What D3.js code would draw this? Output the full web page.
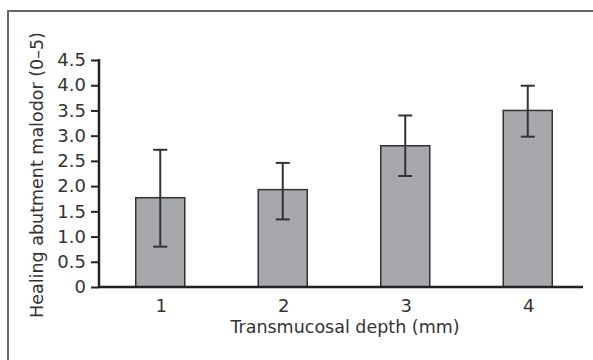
<!DOCTYPE html>
<html>
<head>
<meta charset="utf-8">
<script src="https://cdn.jsdelivr.net/npm/d3@7/dist/d3.min.js"></script>
<style>
  html, body { margin: 0; padding: 0; background: #fff; }
  svg text { font-family: "DejaVu Sans", sans-serif; fill: #333; }
</style>
</head>
<body>
<svg id="chart" width="593" height="360"></svg>
<script>
const categories = ["1", "2", "3", "4"];
const means = [1.77, 1.93, 2.80, 3.50];
const errLow = [0.80, 1.34, 2.20, 2.98];
const errHigh = [2.72, 2.46, 3.40, 3.99];
const yTicks = [0, 0.5, 1.0, 1.5, 2.0, 2.5, 3.0, 3.5, 4.0, 4.5];
const xTitle = "Transmucosal depth (mm)";
const yTitle = "Healing abutment malodor (0\u20135)";

const svg = d3.select("#chart");

// frame (only left/top visible)
svg.append("rect")
  .attr("x", 8).attr("y", 11)
  .attr("width", 600).attr("height", 400)
  .attr("fill", "none").attr("stroke", "#666").attr("stroke-width", 2);

const x = d3.scaleBand().domain(categories).range([99, 589])
  .paddingInner(0.6).paddingOuter(0.3);
const y = d3.scaleLinear().domain([0, 4.5]).range([287, 60]);

const data = categories.map((c, i) => ({ c, m: means[i], lo: errLow[i], hi: errHigh[i] }));

// bars
svg.append("g").selectAll("rect").data(data).join("rect")
  .attr("x", d => x(d.c))
  .attr("y", d => y(d.m))
  .attr("width", x.bandwidth())
  .attr("height", d => y(0) - y(d.m))
  .attr("fill", "#a7a8ab")
  .attr("stroke", "#333")
  .attr("stroke-width", 1.5);

// error bars
const eg = svg.append("g").attr("stroke", "#333").attr("stroke-width", 2);
eg.selectAll("line.v").data(data).join("line").attr("class", "v")
  .attr("x1", d => x(d.c) + x.bandwidth() / 2)
  .attr("x2", d => x(d.c) + x.bandwidth() / 2)
  .attr("y1", d => y(d.lo)).attr("y2", d => y(d.hi));
eg.selectAll("line.t").data(data).join("line").attr("class", "t")
  .attr("x1", d => x(d.c) + x.bandwidth() / 2 - 7)
  .attr("x2", d => x(d.c) + x.bandwidth() / 2 + 7)
  .attr("y1", d => y(d.hi)).attr("y2", d => y(d.hi));
eg.selectAll("line.b").data(data).join("line").attr("class", "b")
  .attr("x1", d => x(d.c) + x.bandwidth() / 2 - 7)
  .attr("x2", d => x(d.c) + x.bandwidth() / 2 + 7)
  .attr("y1", d => y(d.lo)).attr("y2", d => y(d.lo));

// y axis
const yAxis = d3.axisLeft(y).tickValues(yTicks)
  .tickFormat(d => d === 0 ? "0" : d3.format(".1f")(d))
  .tickSize(8).tickPadding(5);
const yg = svg.append("g").attr("transform", "translate(99,0)").call(yAxis);
yg.select(".domain").remove();
yg.append("line").attr("x1", 0).attr("x2", 0).attr("y1", y(4.5) - 1).attr("y2", y(0))
  .attr("stroke", "#222").attr("stroke-width", 2.5);
yg.selectAll(".tick line").attr("stroke", "#222").attr("stroke-width", 2);
yg.selectAll(".tick text").attr("font-size", 18).attr("fill", "#333");

// x axis
svg.append("line").attr("x1", 98).attr("x2", 583).attr("y1", y(0)).attr("y2", y(0))
  .attr("stroke", "#222").attr("stroke-width", 2.5);
svg.append("g").selectAll("text").data(categories).join("text")
  .attr("x", d => x(d) + x.bandwidth() / 2 + 1)
  .attr("y", 312)
  .attr("text-anchor", "middle")
  .attr("font-size", 18)
  .text(d => d);

svg.append("text")
  .attr("x", 345).attr("y", 333)
  .attr("text-anchor", "middle")
  .attr("font-size", 17.5)
  .text(xTitle);

svg.append("text")
  .attr("transform", "translate(43,175) rotate(-90)")
  .attr("text-anchor", "middle")
  .attr("font-size", 17.5)
  .text(yTitle);
</script>
</body>
</html>
